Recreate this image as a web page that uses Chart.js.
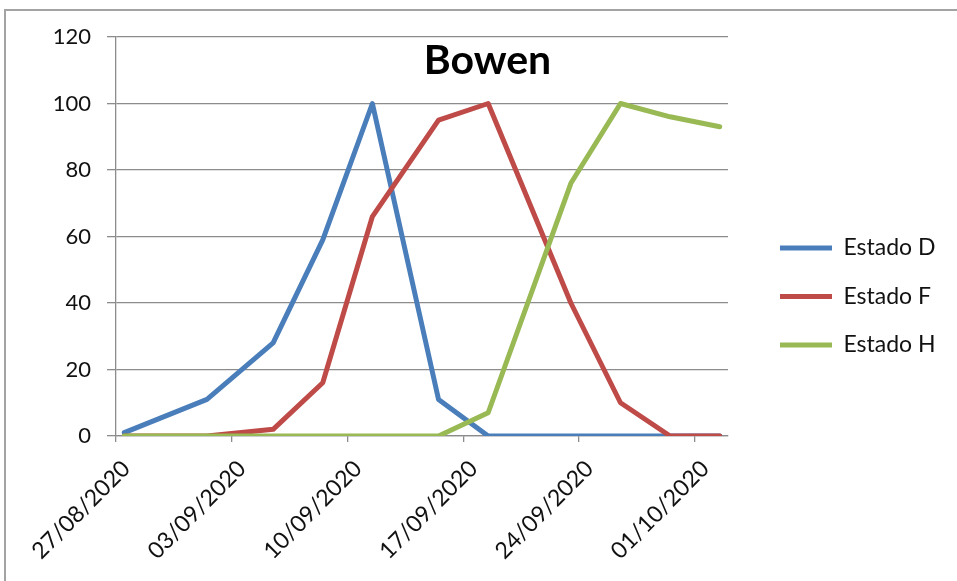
<!DOCTYPE html>
<html>
<head>
<meta charset="utf-8">
<script src="https://cdn.jsdelivr.net/npm/chart.js@4.4.1/dist/chart.umd.min.js"></script>
<style>
  html, body { margin: 0; padding: 0; background: #fff; overflow: hidden; }
  #frame { position: absolute; left: 4px; top: 9px; width: 1000px; height: 700px;
           border-left: 2px solid #a3a3a3; border-top: 2px solid #a3a3a3; }
  #wrap { position: absolute; left: 0; top: 0; width: 957px; height: 581px; }
</style>
</head>
<body>
<div id="frame"></div>
<div id="wrap"><canvas id="c" width="957" height="581"></canvas></div>
<script>
// Daily axis range (one category per day)
const firstDay = '27/08/2020';
const lastDay = '02/10/2020';

// Sampling dates and percentage of plants in each phenological state
const sampleDates = ['27/08/2020', '01/09/2020', '05/09/2020', '08/09/2020', '11/09/2020',
                     '15/09/2020', '18/09/2020', '23/09/2020', '26/09/2020', '29/09/2020', '02/10/2020'];
const estadoD = [1, 11, 28, 59, 100, 11, 0, 0, 0, 0, 0];
const estadoF = [0, 0, 2, 16, 66, 95, 100, 40, 10, 0, 0];
const estadoH = [0, 0, 0, 0, 0, 0, 7, 76, 100, 96, 93];

const seriesNames = ['Estado D', 'Estado F', 'Estado H'];
const seriesColors = ['#4a7ebb', '#be4b48', '#98b954'];
const chartTitle = 'Bowen';

// Build the list of days between firstDay and lastDay
function parseDay(s) {
  const [d, m, y] = s.split('/').map(Number);
  return Date.UTC(y, m - 1, d);
}
function formatDay(t) {
  const dt = new Date(t);
  const dd = String(dt.getUTCDate()).padStart(2, '0');
  const mm = String(dt.getUTCMonth() + 1).padStart(2, '0');
  return dd + '/' + mm + '/' + dt.getUTCFullYear();
}
const days = [];
for (let t = parseDay(firstDay); t <= parseDay(lastDay); t += 86400000) days.push(formatDay(t));

const toPoints = vals => sampleDates.map((d, i) => ({ x: d, y: vals[i] }));

const axisGray = '#8c8c8c';
const textColor = '#111';
const fontFamily = 'Lato, "Open Sans", sans-serif';

// Legend box: fixed width on the right, entries pushed away from the plot and raised a bit
const legendBoxWidth = 229;
const legendInsetX = 26.5;
const legendShiftY = -12.5;

const legendPlacement = {
  id: 'legendPlacement',
  beforeLayout(chart) {
    const lg = chart.legend;
    if (lg && !lg._fixedFit) {
      const fit = lg.fit;
      lg.fit = function () { fit.call(this); this.width = legendBoxWidth; };
      lg._fixedFit = true;
    }
  },
  afterLayout(chart) {
    const lg = chart.legend;
    if (lg) {
      lg.left += legendInsetX; lg.right += legendInsetX;
      lg.top += legendShiftY; lg.bottom += legendShiftY;
    }
  }
};

const titlePlugin = {
  id: 'innerTitle',
  afterDatasetsDraw(chart) {
    const ctx = chart.ctx;
    ctx.save();
    ctx.font = 'bold 41px ' + fontFamily;
    ctx.fillStyle = '#000';
    ctx.textAlign = 'center';
    ctx.textBaseline = 'alphabetic';
    ctx.fillText(chartTitle, 487.5, 73.5);
    ctx.restore();
  }
};

function draw() {
  new Chart(document.getElementById('c'), {
    type: 'line',
    data: {
      labels: days,
      datasets: [estadoD, estadoF, estadoH].map((vals, i) => ({
        label: seriesNames[i],
        data: toPoints(vals),
        borderColor: seriesColors[i],
        backgroundColor: seriesColors[i],
        borderWidth: 5,
        borderCapStyle: 'round',
        borderJoinStyle: 'round',
        pointRadius: 0,
        tension: 0,
        order: 2 - i
      }))
    },
    options: {
      responsive: false,
      animation: false,
      layout: { padding: { top: 37, right: 0, bottom: 0, left: 0 } },
      plugins: {
        tooltip: { enabled: false },
        legend: {
          position: 'right',
          labels: {
            usePointStyle: true,
            pointStyle: 'line',
            pointStyleWidth: 52,
            padding: 25.5,
            color: textColor,
            font: { family: fontFamily, size: 23 },
            sort: (a, b) => a.datasetIndex - b.datasetIndex
          }
        }
      },
      scales: {
        x: {
          type: 'category',
          offset: true,
          afterFit: s => { s.height = 145; },
          grid: {
            offset: true,
            drawOnChartArea: false,
            drawTicks: true,
            tickLength: 6,
            lineWidth: 1.3,
            color: c => (c.index % 7 === 0 ? axisGray : 'rgba(0,0,0,0)')
          },
          border: { display: true, color: axisGray, width: 1.3 },
          ticks: {
            autoSkip: false,
            maxRotation: 45,
            minRotation: 45,
            padding: 13,
            labelOffset: 2,
            color: textColor,
            font: { family: fontFamily, size: 23 },
            callback: function (value, index) {
              return index % 7 === 0 ? this.getLabelForValue(value) : '';
            }
          }
        },
        y: {
          min: 0,
          max: 120,
          afterFit: s => { s.width = 116; },
          grid: { color: axisGray, lineWidth: 1.3, tickLength: 9 },
          border: { display: true, color: axisGray, width: 1.3 },
          ticks: {
            stepSize: 20,
            padding: 16,
            color: textColor,
            font: { family: fontFamily, size: 22 }
          }
        }
      }
    },
    plugins: [legendPlacement, titlePlugin]
  });
}

// Make sure the faces are ready before the chart measures its text
Promise.all([
  document.fonts.load('22px Lato'),
  document.fonts.load('bold 41px Lato')
]).then(draw, draw);
</script>
</body>
</html>
